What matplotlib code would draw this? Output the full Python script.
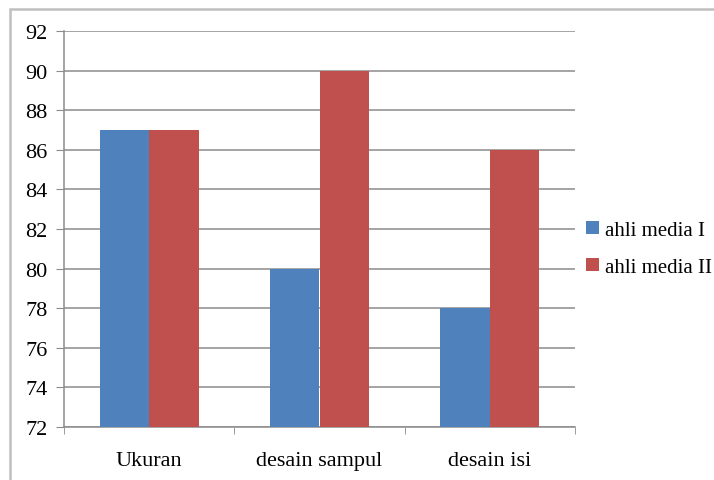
import matplotlib.pyplot as plt
import numpy as np
from matplotlib.patches import Rectangle

# data
categories = ['Ukuran', 'desain sampul', 'desain isi']
media_1 = [87, 80, 78]
media_2 = [87, 90, 86]
labels = ['ahli media I', 'ahli media II']
colors = ['#4F81BD', '#C0504D']

plt.rcParams['font.family'] = ['Liberation Serif', 'DejaVu Serif']

fig = plt.figure(figsize=(7.14, 4.81), dpi=100)
ax = fig.add_axes([64/714, 1-428/481, (575-64)/714, (428-32)/481])

# chart border (like the excel chart frame)
fig.patches.append(Rectangle((10/714, -0.1), 1.2, 1-10/481+0.1, transform=fig.transFigure,
                             fill=False, edgecolor='#BFBFBF', linewidth=1.8))

x = np.arange(len(categories))
w = 0.29
ax.bar(x - w/2, media_1, w, color=colors[0], label=labels[0], zorder=3)
ax.bar(x + w/2, media_2, w, color=colors[1], label=labels[1], zorder=3)

ax.set_ylim(72, 92)
ax.set_xlim(-0.5, 2.5)
ax.set_yticks(np.arange(72, 93, 2))
ax.yaxis.grid(True, color='#8C8C8C', linewidth=1.1, zorder=0)
ax.set_axisbelow(True)

for s in ['top', 'right']:
    ax.spines[s].set_visible(False)
for s in ['left', 'bottom']:
    ax.spines[s].set_color('#8C8C8C')
    ax.spines[s].set_linewidth(1.1)

ax.tick_params(axis='y', labelsize=16, length=6, color='#8C8C8C', pad=6)
ax.set_xticks(x)
ax.set_xticklabels(categories)
ax.set_xticks([-0.5, 0.5, 1.5, 2.5], minor=True)
ax.tick_params(axis='x', which='major', length=0, labelsize=16, pad=17)
ax.tick_params(axis='x', which='minor', length=5, color='#8C8C8C')

fig.legend(loc='center left', bbox_to_anchor=(578/714, 1-250/481), frameon=False,
           fontsize=15, handlelength=0.6, handleheight=0.6, handletextpad=0.3,
           labelspacing=0.85, borderaxespad=0)

plt.savefig('out.png', dpi=100)
